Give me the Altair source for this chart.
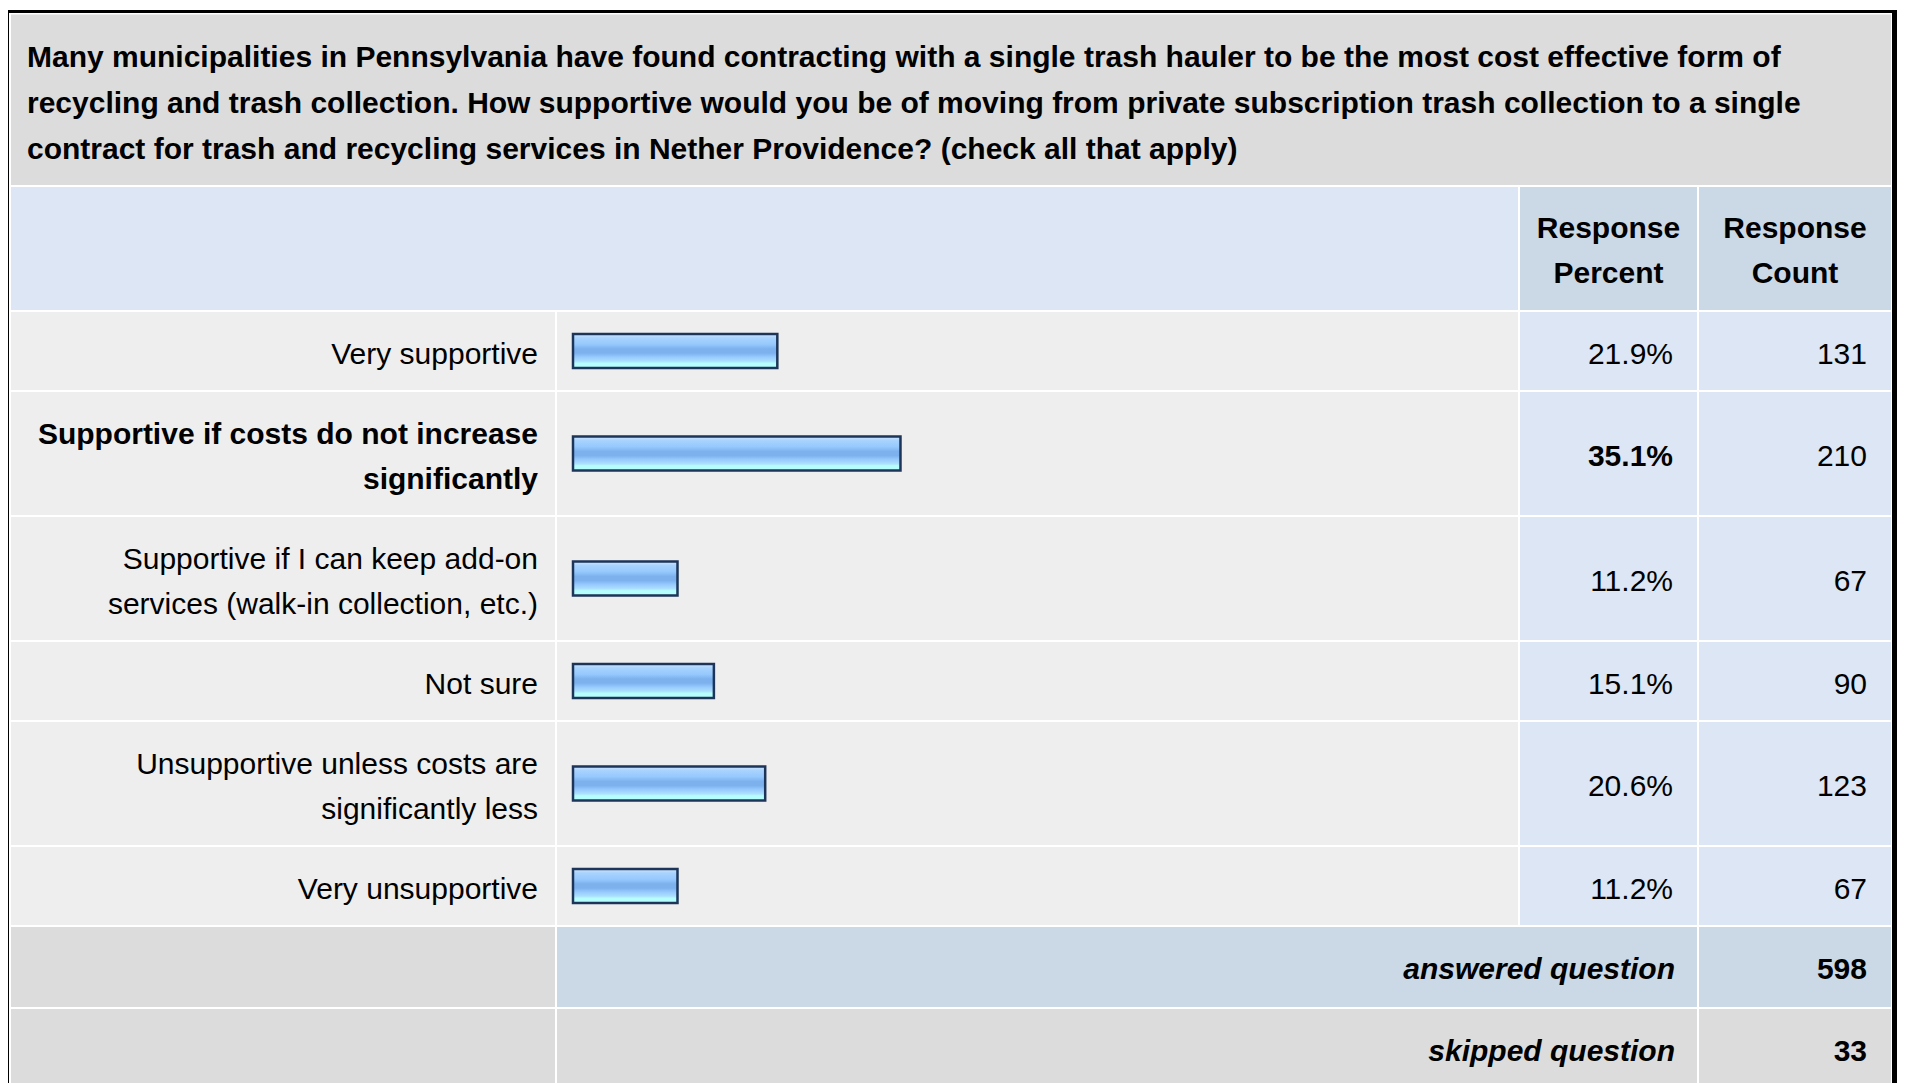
import altair as alt
import pandas as pd

# ---------------- data ----------------
title_lines = [
    "Many municipalities in Pennsylvania have found contracting with a single trash hauler to be the most cost effective form of",
    "recycling and trash collection. How supportive would you be of moving from private subscription trash collection to a single",
    "contract for trash and recycling services in Nether Providence? (check all that apply)",
]
header_percent = ["Response", "Percent"]
header_count = ["Response", "Count"]
category_lines = [
    ["Very supportive"],
    ["Supportive if costs do not increase", "significantly"],
    ["Supportive if I can keep add-on", "services (walk-in collection, etc.)"],
    ["Not sure"],
    ["Unsupportive unless costs are", "significantly less"],
    ["Very unsupportive"],
]
percents = [21.9, 35.1, 11.2, 15.1, 20.6, 11.2]
counts = [131, 210, 67, 90, 123, 67]
footer_labels = ["answered question", "skipped question"]
footer_values = [598, 33]

# ---------------- layout ----------------
W, H = 1891, 1075
OFF = 8
COLS = [(11, 555), (557, 1518), (1520, 1697), (1699, 1891)]
LINE = 45
ONE = 78
GAP = 2
FS = 30
FONT = "Liberation Sans"

C_TITLE = "#dcdcdc"
C_GREY = "#eeeeee"
C_BLUE = "#dce6f4"
C_BLUE2 = "#cbd8e6"

cells = []
texts = []


def cell(x0, x1, y0, y1, fill):
    cells.append(dict(x0=x0 - OFF, x1=x1 - OFF, y0=y0 - OFF, y1=y1 - OFF, fill=fill))


def txt(x, y, s, kind):
    texts.append(dict(x=x - OFF, y=y - OFF, text=s, kind=kind))


# outer frame (black) drawn as filled bands
cell(6, 1897, 10, 13, "#000000")        # top
cell(6, 9, 10, 1200, "#000000")         # left
cell(1892, 1897, 10, 1200, "#000000")   # right

# title
cell(COLS[0][0], COLS[3][1], 14.5, 185, C_TITLE)
tc = (14.5 + 185) / 2 + 4
for i, s in enumerate(title_lines):
    txt(27, tc + (i - 1) * 46, s, "title")

# header
hy0, hy1 = 187, 310
cell(COLS[0][0], COLS[1][1], hy0, hy1, C_BLUE)
cell(COLS[2][0], COLS[2][1], hy0, hy1, C_BLUE2)
cell(COLS[3][0], COLS[3][1], hy0, hy1, C_BLUE2)
hc = (hy0 + hy1) / 2 + 3
for i, s in enumerate(header_percent):
    txt((COLS[2][0] + COLS[2][1]) / 2, hc + (i - 0.5) * LINE, s, "head")
for i, s in enumerate(header_count):
    txt((COLS[3][0] + COLS[3][1]) / 2, hc + (i - 0.5) * LINE, s, "head")

# data rows
best = percents.index(max(percents))
bars = []
y = hy1 + GAP
for k, lines in enumerate(category_lines):
    h = ONE + LINE * (len(lines) - 1)
    y0, y1 = y, y + h
    cell(COLS[0][0], COLS[0][1], y0, y1, C_GREY)
    cell(COLS[1][0], COLS[1][1], y0, y1, C_GREY)
    cell(COLS[2][0], COLS[2][1], y0, y1, C_BLUE)
    cell(COLS[3][0], COLS[3][1], y0, y1, C_BLUE)
    c = (y0 + y1) / 2 + 3.5
    bold = k == best
    for i, s in enumerate(lines):
        txt(538, c + (i - (len(lines) - 1) / 2) * LINE, s, "bold" if bold else "norm")
    txt(1673, c, f"{percents[k]:.1f}%", "bold" if bold else "norm")
    txt(1867, c, str(counts[k]), "norm")
    mid = (y0 + y1) / 2
    bars.append(dict(pct=percents[k], zero=0, top=mid - 17 - OFF, bot=mid + 17 - OFF))
    y = y1 + GAP

# footer rows
for k, (lab, val) in enumerate(zip(footer_labels, footer_values)):
    h = 80
    y0, y1 = y, y + h
    fill = C_BLUE2 if k == 0 else C_TITLE
    cell(COLS[0][0], COLS[0][1], y0, y1, C_TITLE)
    cell(COLS[1][0], COLS[2][1], y0, y1, fill)
    cell(COLS[3][0], COLS[3][1], y0, y1, fill)
    c = (y0 + y1) / 2 + 2.5
    txt(1675, c, lab, "italic")
    txt(1867, c, str(val), "bold")
    y = y1 + GAP

cells_df = pd.DataFrame(cells)
texts_df = pd.DataFrame(texts)
bars_df = pd.DataFrame(bars)

xs = alt.Scale(domain=[0, W], range=[0, W])
ys = alt.Scale(domain=[0, H], range=[0, H])

cell_layer = alt.Chart(cells_df).mark_rect().encode(
    x=alt.X("x0:Q", scale=xs, axis=None), x2="x1:Q",
    y=alt.Y("y0:Q", scale=ys, axis=None), y2="y1:Q",
    color=alt.Color("fill:N", scale=None),
)

grad = alt.Gradient(
    gradient="linear",
    stops=[
        alt.GradientStop(color="#cfe6fd", offset=0),
        alt.GradientStop(color="#a8d3fd", offset=0.12),
        alt.GradientStop(color="#96c9fd", offset=0.3),
        alt.GradientStop(color="#7cb1ee", offset=0.44),
        alt.GradientStop(color="#7cb1ee", offset=0.56),
        alt.GradientStop(color="#98cafd", offset=0.68),
        alt.GradientStop(color="#ace0fd", offset=0.8),
        alt.GradientStop(color="#b4fefe", offset=0.86),
        alt.GradientStop(color="#b4fefe", offset=1),
    ],
    x1=0, x2=0, y1=0, y2=1,
)

bar_scale = alt.Scale(domain=[0, 100], range=[565, 1498])
bar_layer = alt.Chart(bars_df).mark_rect(
    fill=grad, stroke="#1c3558", strokeWidth=2.5
).encode(
    x=alt.X("zero:Q", scale=bar_scale, axis=None), x2="pct:Q",
    y=alt.Y("top:Q", scale=ys, axis=None), y2="bot:Q",
)


def text_layer(kind, align, weight="normal", style="normal"):
    return alt.Chart(texts_df).transform_filter(
        alt.datum.kind == kind
    ).mark_text(
        align=align, baseline="middle", font=FONT, fontSize=FS,
        fontWeight=weight, fontStyle=style, color="#000000",
    ).encode(
        x=alt.X("x:Q", scale=xs, axis=None),
        y=alt.Y("y:Q", scale=ys, axis=None),
        text="text:N",
    )


layers = [
    cell_layer,
    bar_layer,
    text_layer("title", "left", "bold"),
    text_layer("head", "center", "bold"),
    text_layer("norm", "right"),
    text_layer("bold", "right", "bold"),
    text_layer("italic", "right", "bold", "italic"),
]

chart = alt.layer(*layers).resolve_scale(x="independent").properties(
    width=W, height=H, padding=0, autosize=alt.AutoSizeParams(type="none"),
    background="white",
).configure_view(stroke=None)

chart.save("out.html", embed_options={"renderer": "svg", "actions": False})
